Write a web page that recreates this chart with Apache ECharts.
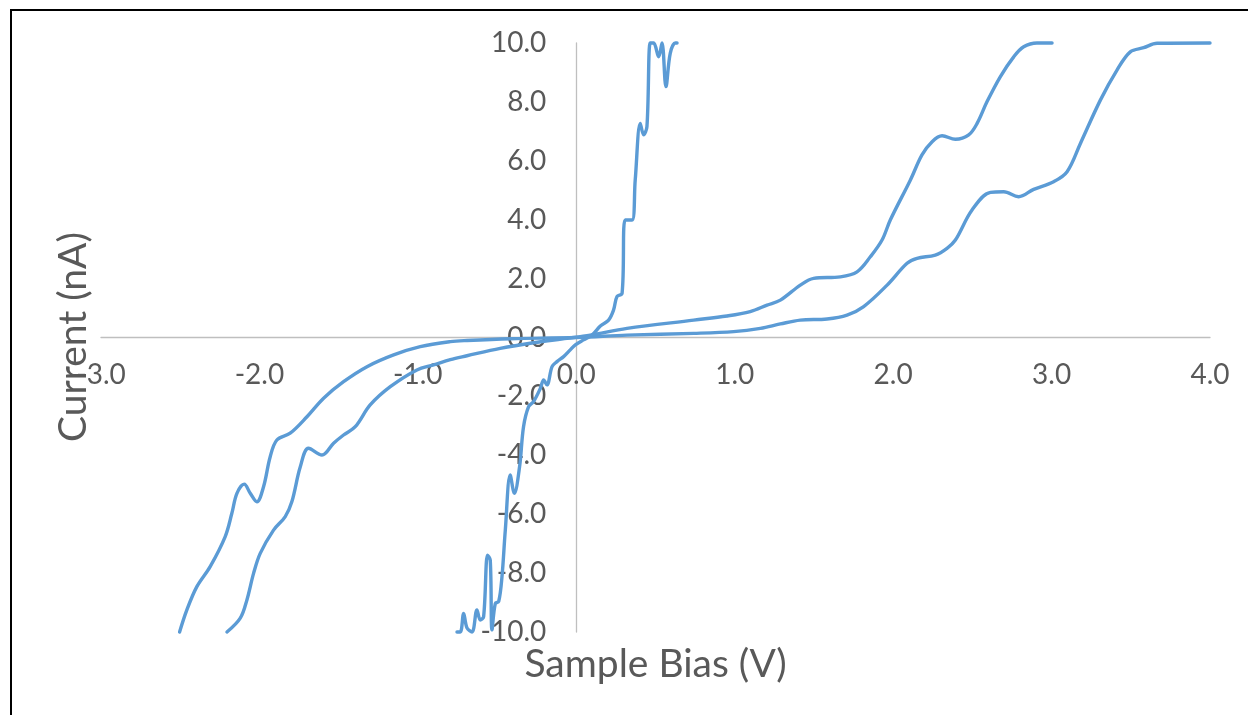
<!DOCTYPE html>
<html>
<head>
<meta charset="utf-8">
<script src="https://cdn.jsdelivr.net/npm/echarts@6/dist/echarts.min.js"></script>
<style>
  html, body { margin: 0; padding: 0; background: #fff; }
  #wrap { position: relative; width: 1248px; height: 715px; overflow: hidden; background: #fff; }
  #frame { position: absolute; left: 10px; top: 9px; width: 3000px; height: 3000px; border: 2px solid #000; box-sizing: border-box; }
  #chart { position: absolute; left: 0; top: 0; width: 1248px; height: 715px; }
</style>
</head>
<body>
<div id="wrap">
  <div id="frame"></div>
  <div id="chart"></div>
</div>
<script>
// Sample bias (V) and current (nA)
const steepBias = [-0.753,-0.732,-0.711,-0.690,-0.658,-0.627,-0.606,-0.585,-0.560,-0.543,-0.532,-0.511,-0.490,-0.469,-0.448,-0.417,-0.391,-0.358,-0.333,-0.301,-0.270,-0.227,-0.206,-0.185,-0.153,-0.122,-0.080,-0.038,-0.006,0.046,0.099,0.152,0.204,0.235,0.257,0.289,0.309,0.352,0.372,0.404,0.425,0.446,0.467,0.488,0.520,0.541,0.566,0.593,0.625,0.636];
const steepCurrent = [-10.0,-10.0,-9.37,-9.86,-10.0,-9.25,-9.59,-9.48,-7.39,-7.56,-9.93,-9.03,-8.97,-8.12,-6.54,-4.67,-5.29,-4.39,-3.03,-2.35,-2.18,-1.73,-1.44,-1.61,-0.99,-0.82,-0.65,-0.42,-0.25,-0.08,0.08,0.39,0.59,0.93,1.39,1.50,3.99,3.99,5.35,7.27,6.88,7.16,10.0,10.0,9.53,10.0,8.52,9.65,10.0,10.0];

const highBias = [-2.205,-2.121,-2.079,-2.037,-1.995,-1.911,-1.837,-1.795,-1.742,-1.690,-1.605,-1.532,-1.469,-1.395,-1.301,-1.174,-1.006,-0.901,-0.795,-0.690,-0.480,-0.270,-0.059,0.088,0.320,0.741,0.951,1.098,1.204,1.288,1.414,1.498,1.667,1.772,1.856,1.930,1.982,2.109,2.182,2.246,2.309,2.393,2.477,2.530,2.593,2.677,2.761,2.824,2.908,3.003];
const highCurrent = [-10.0,-9.53,-8.91,-8.01,-7.33,-6.54,-6.08,-5.57,-4.39,-3.76,-3.99,-3.59,-3.31,-3.03,-2.29,-1.67,-1.10,-0.93,-0.75,-0.62,-0.37,-0.18,-0.03,0.08,0.31,0.59,0.73,0.88,1.10,1.27,1.78,2.01,2.06,2.23,2.74,3.31,3.99,5.35,6.20,6.65,6.85,6.73,6.88,7.27,8.01,8.86,9.53,9.87,10.0,10.0];

const lowBias = [-2.504,-2.458,-2.395,-2.311,-2.216,-2.174,-2.142,-2.096,-2.058,-2.016,-1.974,-1.932,-1.890,-1.806,-1.700,-1.595,-1.469,-1.321,-1.153,-0.985,-0.795,-0.690,-0.417,0.0,0.320,0.741,0.993,1.162,1.288,1.414,1.583,1.709,1.814,1.962,2.088,2.151,2.266,2.340,2.393,2.498,2.614,2.698,2.792,2.887,3.013,3.098,3.182,3.308,3.413,3.497,3.581,3.666,4.0];
const lowCurrent = [-10.0,-9.25,-8.46,-7.78,-6.76,-5.97,-5.29,-4.98,-5.29,-5.58,-5.07,-4.05,-3.48,-3.25,-2.69,-2.06,-1.50,-0.99,-0.59,-0.31,-0.14,-0.10,-0.04,0.0,0.08,0.14,0.20,0.31,0.46,0.59,0.63,0.76,1.05,1.78,2.52,2.69,2.80,3.03,3.31,4.33,4.93,4.95,4.78,5.03,5.29,5.63,6.59,8.06,9.08,9.70,9.84,9.99,10.0];

const xTitle = 'Sample Bias (V)';
const yTitle = 'Current (nA)';
const xMin = -3, xMax = 4, yMin = -10, yMax = 10;

function pairs(xs, ys) { return xs.map((x, i) => [x, ys[i]]); }

const FONT = 'Lato';
const LINE_COLOR = '#5B9BD5';
const TEXT_COLOR = '#595959';
const AXIS_COLOR = '#BFBFBF';

const W = 1248, H = 715;
const G = { left: 101, right: 38, top: 43, bottom: 83 };
const plotW = W - G.left - G.right, plotH = H - G.top - G.bottom;
// move axes (line + labels) onto the zero lines
const xAxisOffset = -plotH * (0 - yMin) / (yMax - yMin);
const yAxisOffset = -plotW * (0 - xMin) / (xMax - xMin);

const chart = echarts.init(document.getElementById('chart'), null, { renderer: 'canvas' });

function mkSeries(xs, ys) {
  return {
    type: 'line',
    data: pairs(xs, ys),
    smooth: 0.35,
    showSymbol: false,
    symbol: 'none',
    lineStyle: { color: LINE_COLOR, width: 3.4, cap: 'round', join: 'round' },
    itemStyle: { color: LINE_COLOR },
    animation: false,
    clip: false
  };
}

chart.setOption({
  animation: false,
  grid: { left: G.left, right: G.right, top: G.top, bottom: G.bottom, containLabel: false },
  xAxis: {
    type: 'value',
    min: xMin, max: xMax, interval: 1,
    position: 'bottom',
    offset: xAxisOffset,
    axisLine: { show: true, onZero: false, lineStyle: { color: AXIS_COLOR, width: 1.3 } },
    axisTick: { show: false },
    splitLine: { show: false },
    axisLabel: {
      color: TEXT_COLOR, fontFamily: FONT, fontSize: 28, margin: 23,
      formatter: v => v.toFixed(1)
    }
  },
  yAxis: {
    type: 'value',
    min: yMin, max: yMax, interval: 2,
    position: 'left',
    offset: yAxisOffset,
    axisLine: { show: true, onZero: false, lineStyle: { color: AXIS_COLOR, width: 1.3 } },
    axisTick: { show: false },
    splitLine: { show: false },
    axisLabel: {
      color: TEXT_COLOR, fontFamily: FONT, fontSize: 28, margin: 30,
      formatter: v => v.toFixed(1)
    }
  },
  graphic: [
    {
      type: 'text', x: G.left + plotW / 2, y: 664,
      style: { text: xTitle, fill: TEXT_COLOR, font: '39px ' + FONT, align: 'center', verticalAlign: 'middle' }
    },
    {
      type: 'text', rotation: Math.PI / 2, x: 73, y: 337,
      style: { text: yTitle, fill: TEXT_COLOR, font: '39px ' + FONT, align: 'center', verticalAlign: 'middle' }
    }
  ],
  series: [
    mkSeries(lowBias, lowCurrent),
    mkSeries(highBias, highCurrent),
    mkSeries(steepBias, steepCurrent)
  ]
});
</script>
</body>
</html>
